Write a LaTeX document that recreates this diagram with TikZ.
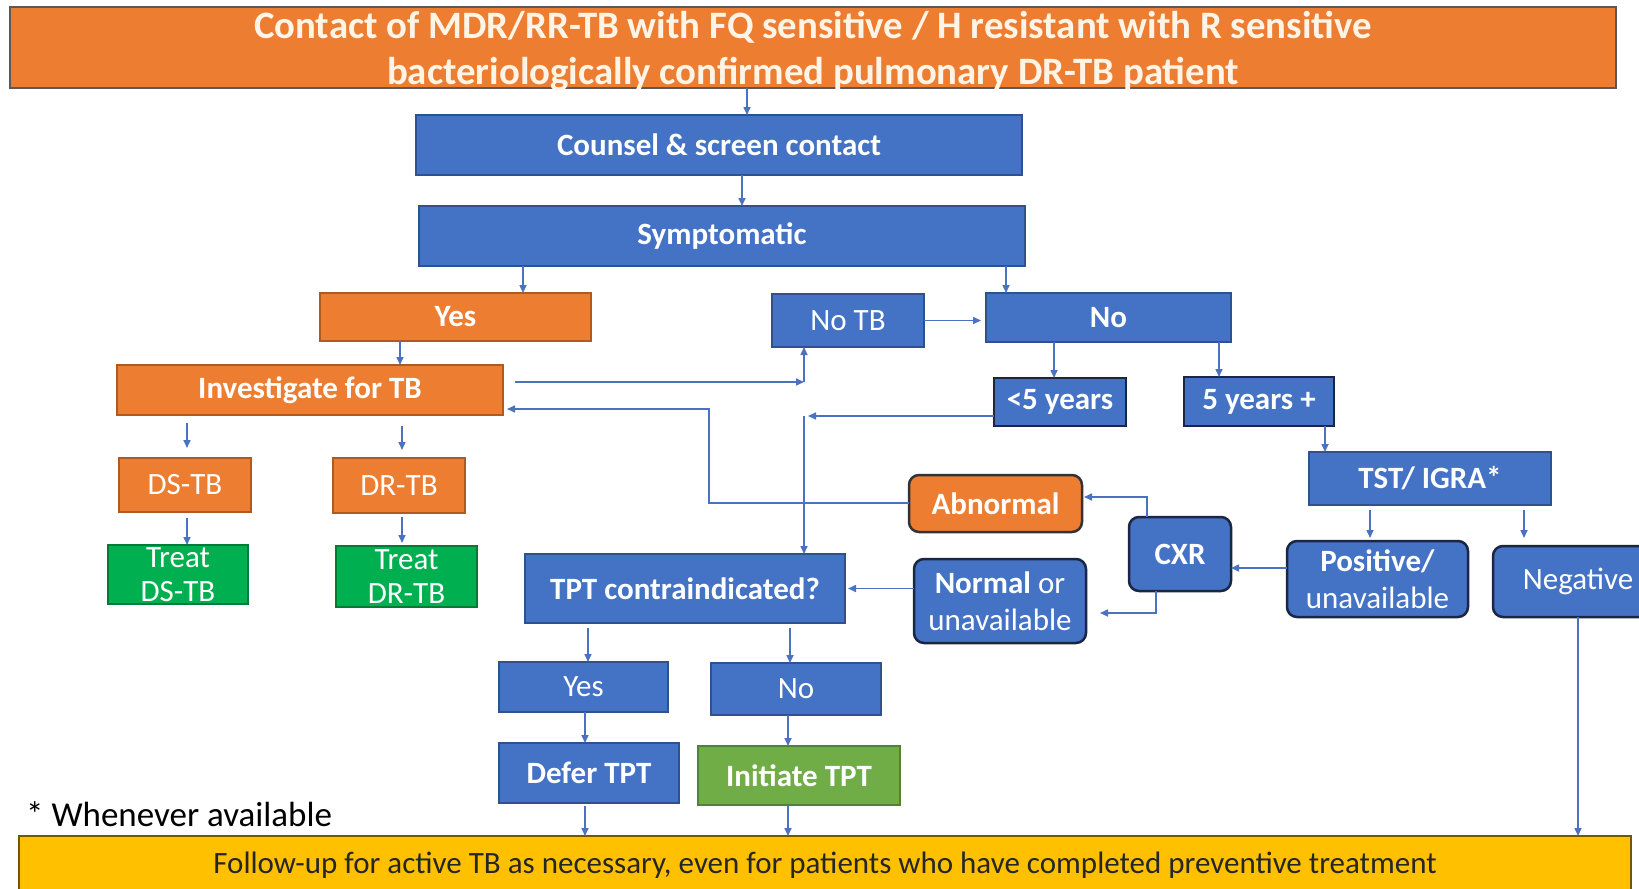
\documentclass[tikz,border=0pt]{standalone}
\usepackage{fontspec}
\setmainfont{Carlito}
\usetikzlibrary{arrows.meta}
\definecolor{cblue}{HTML}{4472C4}
\definecolor{cblueedge}{HTML}{2F528F}
\definecolor{cnavy}{HTML}{1B2742}
\definecolor{corange}{HTML}{ED7D31}
\definecolor{coredge}{HTML}{AE5A21}
\definecolor{cgreen}{HTML}{00B050}
\definecolor{clgreen}{HTML}{70AD47}
\definecolor{cyellow}{HTML}{FFC000}
\definecolor{carrow}{HTML}{4A72C0}
\definecolor{cbanner}{HTML}{FFF4E6}
\newcommand\bx[7]{\node[#6, minimum width={(#4-#2)*1pt}, minimum height={(#5-#3)*1pt}] (#1) at ({(#2+#4)/2},{(#3+#5)/2}) {#7};}
\begin{document}
\begin{tikzpicture}[x=1pt,y=-1pt,
  base/.style={inner sep=0pt, outer sep=0pt, align=center, text=white, font={\fontsize{31}{34}\selectfont}},
  bold/.style={font={\fontsize{31}{34}\selectfont\bfseries}},
  bluebox/.style={base, fill=cblue, draw=cblueedge, line width=1.2pt},
  orbox/.style={base, fill=corange, draw=coredge, line width=1.2pt},
  darkbox/.style={base, fill=cblue, draw=cnavy, line width=2.5pt},
  rbox/.style={darkbox, rounded corners=10pt, font={\fontsize{31}{36.5}\selectfont}},
  grbox/.style={base, fill=cgreen, draw=cgreen!70!black, line width=1.2pt},
  arr/.style={draw=carrow, line width=1.6pt, -{Triangle[length=8pt,width=7pt]}}
]
\clip (0,0) rectangle (1639,889);
\fill[white] (0,0) rectangle (1639,889);

% banner
\node[base, fill=corange, draw=black!65, line width=1.5pt, minimum width=1606pt, minimum height=81pt] (banner) at (813,47.5) {};
\node[base, font={\fontsize{38.8}{46}\selectfont\bfseries}, text=cbanner] (bannertext) at ([yshift=-4pt]banner.center)
  {Contact of MDR/RR-TB with FQ sensitive / H resistant with R sensitive\\bacteriologically confirmed pulmonary DR-TB patient};

\bx{counsel}{416}{115}{1022}{175}{bluebox,bold}{Counsel \& screen contact}
\bx{symp}{419}{206}{1025}{266}{bluebox,bold}{Symptomatic}
\bx{yes1}{320}{293}{591}{341}{orbox,bold}{Yes}
\bx{notb}{772}{294}{924}{347}{bluebox}{No TB}
\bx{no}{986}{293}{1231}{342}{bluebox,bold}{No}
\bx{inv}{117}{365}{503}{415}{orbox,bold}{Investigate for TB}
\bx{lt5}{994}{378}{1126}{426}{darkbox,bold}{<5 years}
\bx{fy}{1184}{377}{1334}{426}{darkbox,bold}{5 years +}
\bx{ds}{119}{458}{251}{512}{orbox}{DS-TB}
\bx{dr}{333}{458}{465}{513}{orbox}{DR-TB}
\bx{tds}{108}{545}{248}{604}{grbox}{Treat\\DS-TB}
\bx{tdr}{336}{546}{477}{607}{grbox}{Treat\\DR-TB}
\bx{tst}{1309}{452}{1551}{505}{bluebox,bold}{TST/ IGRA*}
\bx{abn}{909}{475}{1082}{532}{rbox,bold,fill=corange,draw=black!80}{Abnormal}
\bx{cxr}{1129}{517}{1231}{591}{rbox,bold}{CXR}
\bx{pos}{1287}{541}{1468}{617}{rbox}{\textbf{Positive/}\\unavailable}
\bx{neg}{1493}{546}{1663}{617}{rbox}{Negative}
\bx{nrm}{914}{559}{1086}{643}{rbox}{\textbf{Normal} or\\unavailable}
\bx{tpt}{525}{554}{845}{623}{bluebox,bold}{TPT contraindicated?}
\bx{yes2}{499}{662}{668}{712}{bluebox}{Yes}
\bx{no2}{711}{663}{881}{715}{bluebox}{No}
\bx{defer}{499}{743}{679}{803}{bluebox,bold}{Defer TPT}
\bx{init}{698}{746}{900}{805}{base,bold,fill=clgreen,draw=clgreen!75!black,line width=1.2pt}{Initiate TPT}
\node[base, fill=cyellow, draw=black!55!cyellow, line width=1.5pt, minimum width=1612pt, minimum height=58pt,
  font={\fontsize{31}{34}\selectfont}, text=black!85] (bar) at (825,865)
  {Follow-up for active TB as necessary, even for patients who have completed preventive treatment};
\node[inner sep=0pt, anchor=west, font={\fontsize{35}{38}\selectfont}, text=black] (note) at (26,814) {* Whenever available};

% helper coordinates
\coordinate (xa) at (747,0);
\coordinate (xb) at (742,0);
\coordinate (xc) at (523,0);
\coordinate (xd) at (1006,0);
\coordinate (xe) at (400,0);
\coordinate (xf) at (1054,0);
\coordinate (xg) at (1219,0);
\coordinate (xh) at (1325,0);
\coordinate (xi) at (1370,0);
\coordinate (xj) at (1524,0);
\coordinate (xk) at (187,0);
\coordinate (xl) at (402,0);
\coordinate (xm) at (588,0);
\coordinate (xn) at (790,0);
\coordinate (xo) at (585,0);
\coordinate (xp) at (788,0);
\coordinate (xq) at (1578,0);
\coordinate (j1) at (804,382);
\coordinate (j2) at (804,416);
\coordinate (j3) at (709,503);
\coordinate (j4) at (709,409);
\coordinate (j5) at (1147,497);
\coordinate (j6) at (1156,613);
\coordinate (y1) at (0,568);

% connectors
\draw[arr] (banner.south -| xa) -- (counsel.north -| xa);
\draw[arr] (counsel.south -| xb) -- (symp.north -| xb);
\draw[arr] (symp.south -| xc) -- (yes1.north -| xc);
\draw[arr] (symp.south -| xd) -- (no.north -| xd);
\draw[arr, shorten >=5pt] (notb.east) -- (no.west |- notb.east);
\draw[arr] (yes1.south -| xe) -- (inv.north -| xe);
\draw[arr, shorten <=12pt] (inv.east |- j1) -- (j1);
\draw[arr] (j1) -- (j1 |- notb.south);
\draw[arr, shorten >=4pt] (lt5.west |- j2) -- (j2);
\draw[arr] (j2) -- (j2 |- tpt.north);
\draw[arr, shorten >=4pt] (abn.west |- j3) -- (j3) -- (j4) -- (j4 -| inv.east);
\draw[arr] (no.south -| xf) -- (lt5.north -| xf);
\draw[arr] (no.south -| xg) -- (fy.north -| xg);
\draw[arr] (fy.south -| xh) -- (tst.north -| xh);
\draw[arr, shorten <=5pt, shorten >=3pt] (tst.south -| xi) -- (pos.north -| xi);
\draw[arr, shorten <=5pt, shorten >=8pt] (tst.south -| xj) -- (neg.north -| xj);
\draw[arr] (pos.west |- y1) -- (cxr.east |- y1);
\draw[arr, shorten >=2pt] (cxr.north -| j5) -- (j5) -- (j5 -| abn.east);
\draw[arr, shorten >=14pt] (cxr.south -| j6) -- (j6) -- (j6 -| nrm.east);
\draw[arr, shorten >=3pt] (nrm.west |- tpt.east) -- (tpt.east);
\draw[arr, shorten <=8pt, shorten >=10pt] (inv.south -| xk) -- (ds.north -| xk);
\draw[arr, shorten <=11pt, shorten >=8pt] (inv.south -| xl) -- (dr.north -| xl);
\draw[arr, shorten <=6pt] (ds.south -| xk) -- (tds.north -| xk);
\draw[arr, shorten <=4pt, shorten >=3pt] (dr.south -| xl) -- (tdr.north -| xl);
\draw[arr, shorten <=5pt] (tpt.south -| xm) -- (yes2.north -| xm);
\draw[arr, shorten <=5pt] (tpt.south -| xn) -- (no2.north -| xn);
\draw[arr] (yes2.south -| xo) -- (defer.north -| xo);
\draw[arr] (no2.south -| xp) -- (init.north -| xp);
\draw[arr, shorten <=3pt] (defer.south -| xo) -- (bar.north -| xo);
\draw[arr] (init.south -| xp) -- (bar.north -| xp);
\draw[arr] (neg.south -| xq) -- (bar.north -| xq);
\end{tikzpicture}
\end{document}
